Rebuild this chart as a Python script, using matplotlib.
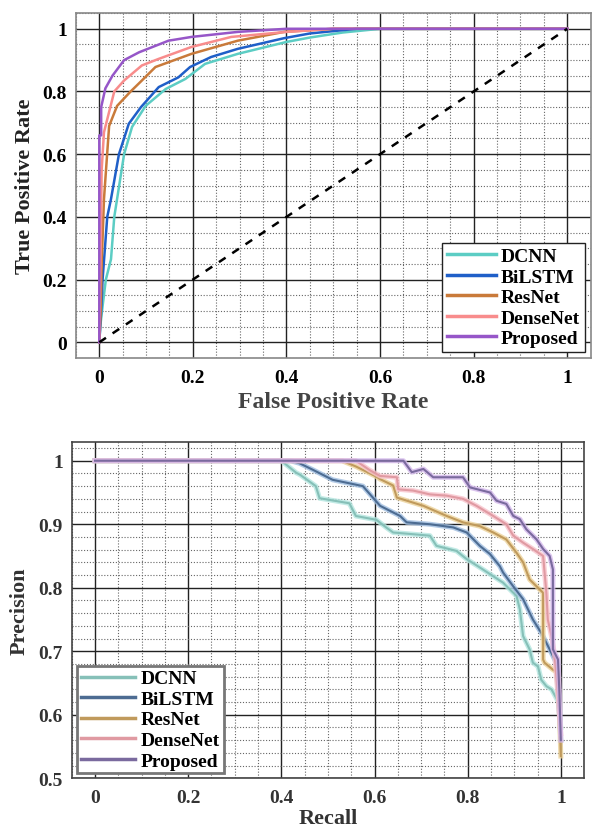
import matplotlib
matplotlib.use("Agg")
import matplotlib.pyplot as plt
from matplotlib.ticker import MultipleLocator, FuncFormatter
from matplotlib.lines import Line2D

# ---------------- data ----------------
models = ["DCNN", "BiLSTM", "ResNet", "DenseNet", "Proposed"]

# ROC curves
fpr_dcnn = [0, 0.002, 0.007, 0.014, 0.025, 0.032, 0.038, 0.053, 0.07, 0.099, 0.142, 0.184, 0.226, 0.296, 0.40, 0.45, 0.52, 0.6, 1.0]
tpr_dcnn = [0, 0.05, 0.115, 0.20, 0.265, 0.40, 0.457, 0.60, 0.687, 0.754, 0.808, 0.84, 0.888, 0.92, 0.958, 0.972, 0.988, 1.0, 1.0]
fpr_bilstm = [0, 0.004, 0.007, 0.012, 0.017, 0.025, 0.042, 0.063, 0.089, 0.127, 0.169, 0.194, 0.239, 0.296, 0.395, 0.45, 0.55, 1.0]
tpr_bilstm = [0, 0.1, 0.2, 0.3, 0.40, 0.457, 0.60, 0.697, 0.75, 0.814, 0.845, 0.878, 0.91, 0.936, 0.97, 0.985, 1.0, 1.0]
fpr_resnet = [0, 0.003, 0.005, 0.01, 0.021, 0.038, 0.067, 0.091, 0.12, 0.197, 0.296, 0.395, 0.5, 1.0]
tpr_resnet = [0, 0.1, 0.25, 0.457, 0.69, 0.754, 0.80, 0.835, 0.878, 0.92, 0.962, 0.99, 1.0, 1.0]
fpr_densenet = [0, 0.003, 0.005, 0.01, 0.032, 0.053, 0.091, 0.127, 0.197, 0.282, 0.4, 0.5, 1.0]
tpr_densenet = [0, 0.3, 0.55, 0.67, 0.80, 0.835, 0.883, 0.904, 0.942, 0.974, 0.99, 1.0, 1.0]
fpr_proposed = [0, 0, 0.004, 0.004, 0.013, 0.028, 0.053, 0.085, 0.148, 0.197, 0.296, 0.4, 1.0]
tpr_proposed = [0, 0.66, 0.66, 0.75, 0.81, 0.85, 0.90, 0.925, 0.962, 0.974, 0.99, 1.0, 1.0]

# Precision-recall curves
rec_dcnn = [0, 0.40, 0.432, 0.44, 0.474, 0.482, 0.546, 0.56, 0.604, 0.625, 0.64, 0.719, 0.733, 0.776, 0.798,
            0.826, 0.876, 0.905, 0.912, 0.919, 0.933, 0.94, 0.951, 0.958, 0.969, 0.98, 0.995, 1.0]
prec_dcnn = [1, 1, 0.981, 0.978, 0.96, 0.941, 0.933, 0.913, 0.907, 0.895, 0.887, 0.882, 0.866, 0.858, 0.845,
             0.832, 0.808, 0.787, 0.766, 0.724, 0.703, 0.682, 0.676, 0.655, 0.645, 0.64, 0.62, 0.58]
rec_bilstm = [0, 0.42, 0.439, 0.467, 0.51, 0.575, 0.612, 0.655, 0.669, 0.719, 0.769, 0.798, 0.826, 0.848,
              0.869, 0.876, 0.897, 0.919, 0.94, 0.958, 0.976, 0.99, 0.997, 1.0]
prec_bilstm = [1, 1, 0.996, 0.986, 0.97, 0.96, 0.929, 0.913, 0.903, 0.9, 0.895, 0.887, 0.866, 0.853,
               0.834, 0.824, 0.803, 0.782, 0.75, 0.729, 0.703, 0.682, 0.6, 0.56]
rec_resnet = [0, 0.53, 0.56, 0.604, 0.612, 0.64, 0.648, 0.683, 0.705, 0.755, 0.79, 0.826, 0.855, 0.883,
              0.905, 0.919, 0.933, 0.951, 0.962, 0.962, 0.965, 0.983, 0.994, 1.0]
prec_resnet = [1, 1, 0.991, 0.975, 0.971, 0.961, 0.942, 0.934, 0.929, 0.913, 0.903, 0.897, 0.887, 0.876,
               0.855, 0.84, 0.813, 0.8, 0.792, 0.687, 0.682, 0.671, 0.666, 0.535]
rec_densenet = [0, 0.56, 0.59, 0.612, 0.648, 0.651, 0.683, 0.719, 0.755, 0.79, 0.819, 0.855, 0.883, 0.898,
                0.919, 0.94, 0.962, 0.969, 0.972, 0.98, 0.987, 0.995, 1.0]
prec_densenet = [1, 1, 0.985, 0.976, 0.974, 0.955, 0.953, 0.947, 0.945, 0.94, 0.929, 0.913, 0.9, 0.882,
                 0.871, 0.861, 0.85, 0.792, 0.75, 0.724, 0.692, 0.62, 0.57]
rec_proposed = [0, 0.662, 0.68, 0.705, 0.726, 0.79, 0.805, 0.848, 0.862, 0.883, 0.898, 0.912, 0.926, 0.948,
                0.962, 0.976, 0.983, 0.983, 0.994, 0.997, 1.0]
prec_proposed = [1, 1, 0.982, 0.987, 0.974, 0.974, 0.958, 0.95, 0.937, 0.932, 0.913, 0.908, 0.892, 0.876,
                 0.861, 0.85, 0.829, 0.703, 0.687, 0.634, 0.56]

roc_colors = ["#5ccdc4", "#1f5fc8", "#c97a3a", "#f88c8c", "#9656c8"]
pr_core = ["#86c0b8", "#4d6c92", "#c09a5c", "#e09aa2", "#7a6a9e"]
pr_halo = ["#b4e6e0", "#9fbde0", "#ecd29a", "#f8c4cc", "#d2b6ea"]

# ---------------- style ----------------
plt.rcParams['font.family'] = ['Liberation Serif', 'DejaVu Serif']
plt.rcParams['font.weight'] = 'bold'

fig = plt.figure(figsize=(5.93, 8.29), dpi=100)

def style_axes(ax, xminor, ymajor, yminor, spine_color, tick_color):
    ax.xaxis.set_major_locator(MultipleLocator(0.2))
    ax.xaxis.set_minor_locator(MultipleLocator(xminor))
    ax.yaxis.set_major_locator(MultipleLocator(ymajor))
    ax.yaxis.set_minor_locator(MultipleLocator(yminor))
    fmt = FuncFormatter(lambda v, p: "%g" % round(v, 2))
    ax.xaxis.set_major_formatter(fmt)
    ax.yaxis.set_major_formatter(fmt)
    ax.grid(which='major', color='#222222', linewidth=1.0, linestyle='-')
    ax.grid(which='minor', color='#666666', linewidth=0.8, linestyle=(0, (1, 1.6)))
    ax.set_axisbelow(True)
    ax.tick_params(which='both', length=0)
    ax.tick_params(axis='x', pad=8, labelsize=14, labelcolor=tick_color)
    ax.tick_params(axis='y', pad=6.5, labelsize=14, labelcolor=tick_color)
    for lab in ax.get_xticklabels() + ax.get_yticklabels():
        lab.set_fontweight('bold')
    for s in ax.spines.values():
        s.set_color(spine_color)
        s.set_linewidth(1.2)

# ---------------- ROC ----------------
ax1 = fig.add_axes([0.128, 0.567, 0.868, 0.416])
roc_fpr = [fpr_dcnn, fpr_bilstm, fpr_resnet, fpr_densenet, fpr_proposed]
roc_tpr = [tpr_dcnn, tpr_bilstm, tpr_resnet, tpr_densenet, tpr_proposed]
for name, f, t, c in zip(models, roc_fpr, roc_tpr, roc_colors):
    ax1.plot(f, t, color=c, linewidth=1.8, label=name, zorder=3)
ax1.plot([0, 1], [0, 1], color='black', linewidth=1.8, dashes=(3.2, 3.2), zorder=4)
ax1.set_xlim(-0.05, 1.05)
ax1.set_ylim(-0.05, 1.05)
style_axes(ax1, 0.05, 0.2, 0.05, '#888888', 'black')
ax1.set_xlabel("False Positive Rate", fontsize=17, fontweight='bold', color='#444444')
ax1.set_ylabel("True Positive Rate", fontsize=16, fontweight='bold', color='#222222')
ax1.xaxis.set_label_coords(0.5, -0.095)
ax1.yaxis.set_label_coords(-0.08, 0.5)
leg1 = ax1.legend(loc='lower right', bbox_to_anchor=(1.0, 0.0), borderaxespad=0.3,
                  prop={'family': 'Liberation Serif', 'weight': 'bold', 'size': 14},
                  handlelength=2.5, handletextpad=0.25, labelspacing=0.15, borderpad=0.25,
                  fancybox=False, framealpha=1, edgecolor='#222222')
leg1.get_frame().set_linewidth(1.0)
for line in leg1.get_lines():
    line.set_linewidth(2.5)

# ---------------- PR ----------------
ax2 = fig.add_axes([0.121, 0.060, 0.864, 0.406])
pr_rec = [rec_dcnn, rec_bilstm, rec_resnet, rec_densenet, rec_proposed]
pr_prec = [prec_dcnn, prec_bilstm, prec_resnet, prec_densenet, prec_proposed]
handles = []
for i, (name, r, p) in enumerate(zip(models, pr_rec, pr_prec)):
    ax2.plot(r, p, color=pr_halo[i], linewidth=3.6, alpha=0.8, solid_joinstyle='round', zorder=3 + i)
    ax2.plot(r, p, color=pr_core[i], linewidth=1.5, solid_joinstyle='round', zorder=3.5 + i)
    handles.append(Line2D([], [], color=pr_core[i], linewidth=2.5, label=name))
ax2.set_xlim(-0.05, 1.05)
ax2.set_ylim(0.5, 1.03)
style_axes(ax2, 0.05, 0.1, 0.02, '#444444', '#333333')
ax2.set_xlabel("Recall", fontsize=16, fontweight='bold', color='#333333')
ax2.set_ylabel("Precision", fontsize=16, fontweight='bold', color='#333333')
ax2.xaxis.set_label_coords(0.5, -0.088)
ax2.yaxis.set_label_coords(-0.083, 0.5)
leg2 = ax2.legend(handles=handles, loc='lower left', bbox_to_anchor=(0.0, 0.0), borderaxespad=0.25,
                  prop={'family': 'Liberation Serif', 'weight': 'bold', 'size': 14},
                  handlelength=2.8, handletextpad=0.3, labelspacing=0.15, borderpad=0.2,
                  fancybox=False, framealpha=1, edgecolor='#777777')
leg2.get_frame().set_linewidth(2.0)

fig.savefig("out.png", dpi=100)
